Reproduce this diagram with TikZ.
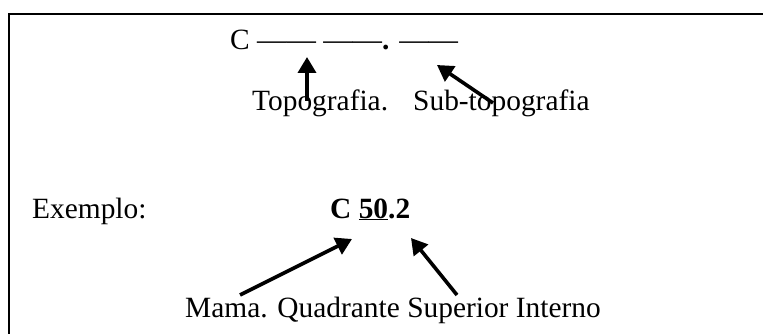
\documentclass[tikz,border=0pt]{standalone}
\usepackage{fontspec}
\setmainfont{Liberation Serif}
\usetikzlibrary{arrows.meta}
\begin{document}
\begin{tikzpicture}[x=1pt,y=-1pt,
  txt/.style={inner sep=0pt,anchor=base west,font=\fontsize{29.4}{32}\selectfont},
  arr/.style={line width=3.6pt,-{Triangle[length=16pt,width=18pt]}},
  frame/.style={line width=2.2pt}]
\useasboundingbox (0,0) rectangle (763,334);
% frame
\draw[frame] (9,334) -- (9,14) -- (763,14);
% texts
\node[txt] (code) at (230,50) {C —— ——\textbf{.} ——};
\node[txt] (topo) at (252,111) {Topografia.};
\node[txt] (sub) at (413,111) {Sub-topografia};
\node[txt] (ex) at (32,218) {Exemplo:};
\node[txt,font=\fontsize{29.4}{32}\selectfont\bfseries] (val) at (330,218) {C \underline{50}.2};
\node[txt] (mama) at (185,317) {Mama. Quadrante Superior Interno};
% arrow anchors
\coordinate (t1a) at (307,101);
\coordinate (t1b) at (307,57);
\coordinate (t2a) at (493,103);
\coordinate (t2b) at (437,65);
\coordinate (t3a) at (240,295);
\coordinate (t3b) at (352,239);
\coordinate (t4a) at (457,295);
\coordinate (t4b) at (411,238);
\draw[arr] (t1a) -- (t1b);
\draw[arr] (t2a) -- (t2b);
\draw[arr] (t3a) -- (t3b);
\draw[arr] (t4a) -- (t4b);
\end{tikzpicture}
\end{document}
